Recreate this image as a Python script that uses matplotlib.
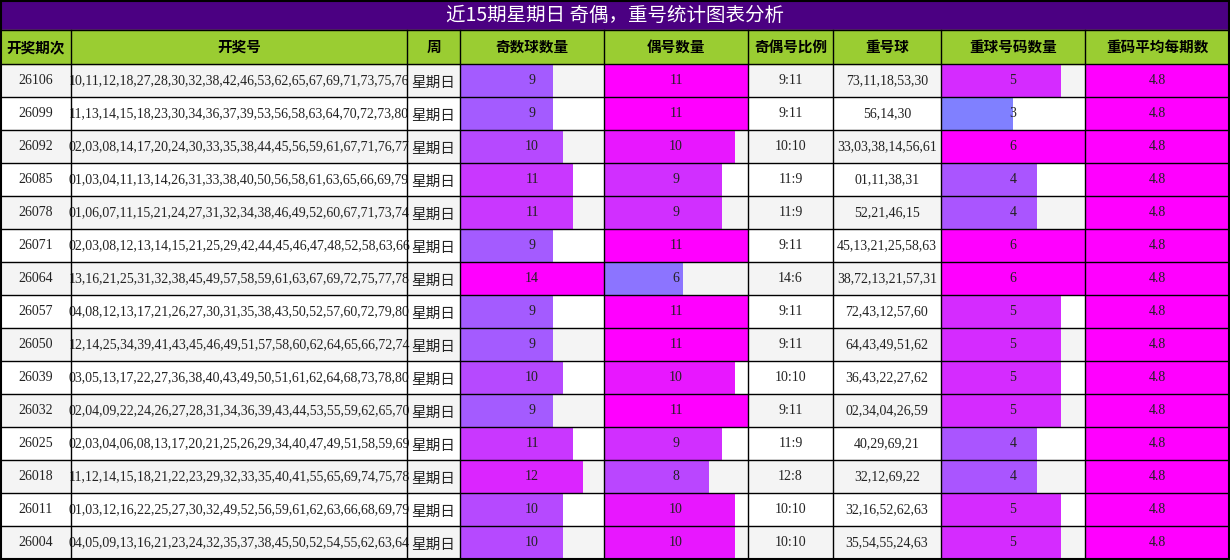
import matplotlib
matplotlib.use("Agg")
import matplotlib.pyplot as plt
import numpy as np

title = "近15期星期日 奇偶，重号统计图表分析"
headers = ["开奖期次", "开奖号", "周", "奇数球数量", "偶号数量", "奇偶号比例", "重号球", "重球号码数量", "重码平均每期数"]
periods = ["26106","26099","26092","26085","26078","26071","26064","26057","26050","26039","26032","26025","26018","26011","26004"]
numbers = [
 "10,11,12,18,27,28,30,32,38,42,46,53,62,65,67,69,71,73,75,76",
 "11,13,14,15,18,23,30,34,36,37,39,53,56,58,63,64,70,72,73,80",
 "02,03,08,14,17,20,24,30,33,35,38,44,45,56,59,61,67,71,76,77",
 "01,03,04,11,13,14,26,31,33,38,40,50,56,58,61,63,65,66,69,79",
 "01,06,07,11,15,21,24,27,31,32,34,38,46,49,52,60,67,71,73,74",
 "02,03,08,12,13,14,15,21,25,29,42,44,45,46,47,48,52,58,63,66",
 "13,16,21,25,31,32,38,45,49,57,58,59,61,63,67,69,72,75,77,78",
 "04,08,12,13,17,21,26,27,30,31,35,38,43,50,52,57,60,72,79,80",
 "12,14,25,34,39,41,43,45,46,49,51,57,58,60,62,64,65,66,72,74",
 "03,05,13,17,22,27,36,38,40,43,49,50,51,61,62,64,68,73,78,80",
 "02,04,09,22,24,26,27,28,31,34,36,39,43,44,53,55,59,62,65,70",
 "02,03,04,06,08,13,17,20,21,25,26,29,34,40,47,49,51,58,59,69",
 "11,12,14,15,18,21,22,23,29,32,33,35,40,41,55,65,69,74,75,78",
 "01,03,12,16,22,25,27,30,32,49,52,56,59,61,62,63,66,68,69,79",
 "04,05,09,13,16,21,23,24,32,35,37,38,45,50,52,54,55,62,63,64",
]
weekday = ["星期日"] * 15
odd_count = [9,9,10,11,11,9,14,9,9,10,9,11,12,10,10]
even_count = [11,11,10,9,9,11,6,11,11,10,11,9,8,10,10]
ratio = ["9:11","9:11","10:10","11:9","11:9","9:11","14:6","9:11","9:11","10:10","9:11","11:9","12:8","10:10","10:10"]
repeat_balls = ["73,11,18,53,30","56,14,30","33,03,38,14,56,61","01,11,38,31","52,21,46,15",
 "45,13,21,25,58,63","38,72,13,21,57,31","72,43,12,57,60","64,43,49,51,62","36,43,22,27,62",
 "02,34,04,26,59","40,29,69,21","32,12,69,22","32,16,52,62,63","35,54,55,24,63"]
repeat_count = [5,3,6,4,4,6,6,5,5,5,5,4,4,5,5]
avg_repeat = [4.8] * 15

W, H = 1230, 560
fig = plt.figure(figsize=(W/100, H/100), dpi=100)
ax = fig.add_axes([0, 0, 1, 1])
ax.set_xlim(0, W); ax.set_ylim(H, 0); ax.axis("off")

cx = [0, 71, 407, 460, 604, 748, 833, 941, 1085, 1229]
title_h, head_h = 30, 34
y0 = title_h + head_h
rh = (H - 1 - y0) / 15
cjk = ["Noto Sans CJK SC", "DejaVu Sans"]
serif = ["Liberation Serif", "Noto Sans CJK SC"]

ax.add_patch(plt.Rectangle((0, 0), W, title_h, color="#4b0082"))
ax.text(W/2, title_h/2, title, color="white", fontsize=14, ha="center", va="center", family=cjk)
ax.add_patch(plt.Rectangle((0, title_h), W, head_h, color="#9acd32"))
for i, h in enumerate(headers):
    ax.text((cx[i]+cx[i+1])/2, title_h+head_h/2, h, fontsize=10.5, fontweight="bold", ha="center", va="center", family=cjk)

def col(v, mx):
    t = np.clip((v/mx - 0.5)/0.5, 0, 1)
    c0 = np.array([0x80, 0x80, 0xff])/255; c1 = np.array([0xff, 0x00, 0xff])/255
    return tuple(c0 + t*(c1-c0))

ys = [y0 + (i+0.5)*rh for i in range(15)]
for i in range(15):
    ax.add_patch(plt.Rectangle((0, y0+i*rh), W, rh, color="#f4f4f4" if i % 2 == 0 else "white", zorder=0))

bar_cols = [(3, odd_count, 14), (4, even_count, 11), (7, repeat_count, 6), (8, avg_repeat, 4.8)]
for c, vals, mx in bar_cols:
    w = cx[c+1] - cx[c]
    ax.barh(ys, [v/mx*w for v in vals], left=cx[c], height=rh, color=[col(v, mx) for v in vals], zorder=1)
    for y, v in zip(ys, vals):
        ax.text((cx[c]+cx[c+1])/2, y, f"{v}", fontsize=10, ha="center", va="center", family=serif, color="#222", zorder=3)

text_cols = [(0, periods), (1, numbers), (2, weekday), (5, ratio), (6, repeat_balls)]
for c, vals in text_cols:
    for y, v in zip(ys, vals):
        fam = cjk if c == 2 else serif
        ax.text((cx[c]+cx[c+1])/2, y + (2 if c == 2 else 0), v, fontsize=10 if c != 2 else 10.5, ha="center", va="center", family=fam, color="#222", zorder=3)

# grid lines
for x in cx:
    ax.plot([x, x], [title_h, H-1], color="black", lw=1, zorder=4)
for i in range(16):
    y = y0 + i*rh
    ax.plot([0, W], [y, y], color="black", lw=1, zorder=4)
ax.plot([0, W], [title_h, title_h], color="black", lw=1, zorder=4)
ax.add_patch(plt.Rectangle((0.5, 0.5), W-1.5, H-1.5, fill=False, ec="black", lw=1.5, zorder=5))

fig.savefig("out.png", dpi=100)
